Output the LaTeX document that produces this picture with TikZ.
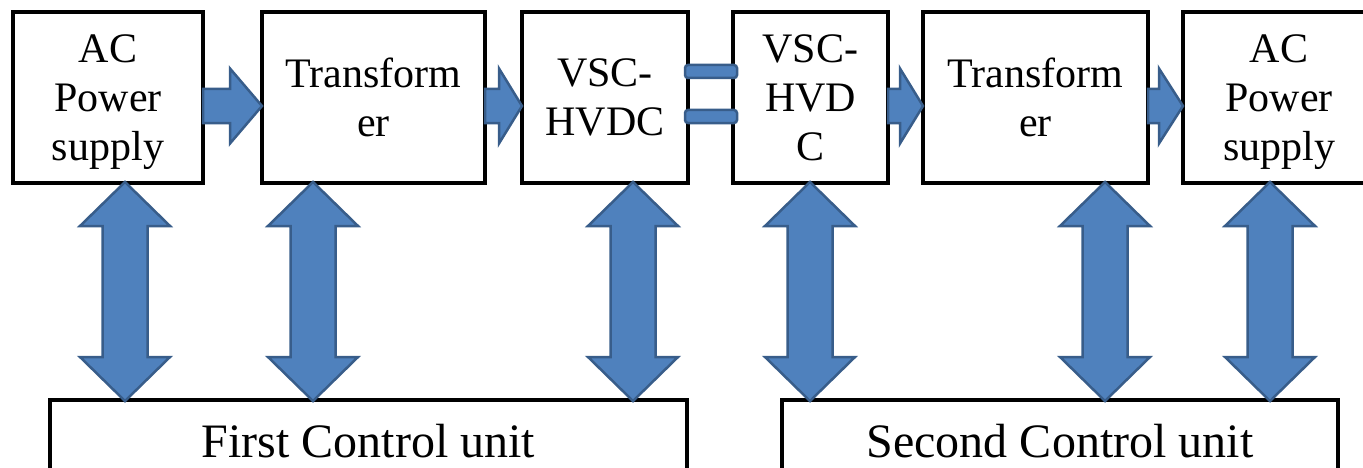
\documentclass[tikz,border=0pt]{standalone}
\usepackage{fontspec}
\setmainfont{Liberation Serif}
\usetikzlibrary{calc}
\definecolor{afill}{HTML}{4F81BD}
\definecolor{aline}{HTML}{385D8A}
\tikzset{
  box/.style={draw=black, line width=4pt, fill=white, inner sep=0pt, outer sep=0pt,
    align=center, font=\fontsize{42}{49}\selectfont, minimum height=171pt},
  ctrl/.style={draw=black, line width=4pt, fill=white, inner sep=0pt, outer sep=0pt,
    font=\fontsize{48}{56}\selectfont, minimum height=81pt, text height=33pt, text depth=0pt},
  blockarrow/.style={fill=afill, draw=aline, line width=2.5pt, line join=miter},
  busbar/.style={fill=afill, draw=aline, line width=2.5pt, rounded corners=3pt},
}
% horizontal block arrow: from node, to node, head length
\newcommand\HArrow[3]{%
  \path[blockarrow] let \p1=(#1.east), \p2=(#2.west) in
    (\x1,\y1+8.5pt) -- (\x2-#3,\y1+8.5pt) -- (\x2-#3,\y1+29pt) -- (\x2,\y1-8.5pt)
    -- (\x2-#3,\y1-46pt) -- (\x2-#3,\y1-25.5pt) -- (\x1,\y1-25.5pt) -- cycle;}
% vertical double block arrow: top node, bottom node, x position
\newcommand\VArrow[3]{%
  \path[blockarrow] let \p1=(#1.south), \p2=(#2.north) in
    (#3,\y1+1pt) -- (#3+45pt,\y1-43pt) -- (#3+22.5pt,\y1-43pt) -- (#3+22.5pt,\y2+43pt)
    -- (#3+45pt,\y2+43pt) -- (#3,\y2-1pt) -- (#3-45pt,\y2+43pt) -- (#3-22.5pt,\y2+43pt)
    -- (#3-22.5pt,\y1-43pt) -- (#3-45pt,\y1-43pt) -- cycle;}
% DC link bars between two nodes
\newcommand\DCBars[2]{%
  \path[busbar] let \p1=(#1.east), \p2=(#2.west) in
    (\x1-3pt,\y1+19.5pt) rectangle (\x2+4pt,\y1+32.5pt);
  \path[busbar] let \p1=(#1.east), \p2=(#2.west) in
    (\x1-3pt,\y1-12.5pt) rectangle (\x2+4pt,\y1-25.5pt);}
\begin{document}
\begin{tikzpicture}[x=1pt,y=1pt]
  \useasboundingbox (0,0) rectangle (1363,467);
  \clip (0,0) rectangle (1363,467);
  % top row
  \node[box, minimum width=190pt] (a1) at (108,369.5) {AC\\Power\\\raisebox{0pt}[\height][0pt]{supply}};
  \node[box, minimum width=223pt] (t1) at (373.5,369.5) {Transform\\er};
  \node[box, minimum width=166pt] (v1) at (605,369.5) {VSC-\\HVDC};
  \node[box, minimum width=155pt] (v2) at (810.5,369.5) {VSC-\\HVD\\C};
  \node[box, minimum width=225pt] (t2) at (1035.5,369.5) {Transform\\er};
  \node[box, minimum width=192pt] (a2) at (1279,369.5) {AC\\Power\\\raisebox{0pt}[\height][0pt]{supply}};
  % control units
  \node[ctrl, minimum width=637pt] (c1) at (368.5,26.5) {First Control unit};
  \node[ctrl, minimum width=556pt] (c2) at (1060,26.5) {Second Control unit};
  % power flow arrows
  \HArrow{a1}{t1}{32pt}
  \HArrow{t1}{v1}{23pt}
  \HArrow{v2}{t2}{23pt}
  \HArrow{t2}{a2}{24pt}
  % DC link
  \DCBars{v1}{v2}
  % control links
  \VArrow{a1}{c1}{125pt}
  \VArrow{t1}{c1}{313pt}
  \VArrow{v1}{c1}{633pt}
  \VArrow{v2}{c2}{810pt}
  \VArrow{t2}{c2}{1105pt}
  \VArrow{a2}{c2}{1270pt}
\end{tikzpicture}
\end{document}
